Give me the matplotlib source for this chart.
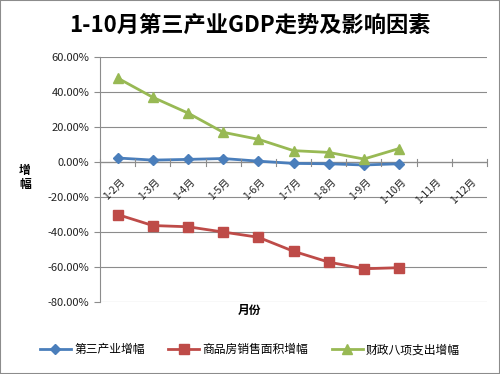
import numpy as np
import matplotlib.pyplot as plt
from matplotlib.ticker import FuncFormatter

plt.rcParams['font.family'] = ['Noto Sans CJK SC', 'DejaVu Sans']

months = ['1-2月', '1-3月', '1-4月', '1-5月', '1-6月', '1-7月', '1-8月', '1-9月',
          '1-10月', '1-11月', '1-12月']
tertiary = [2.3, 1.1, 1.5, 2.0, 0.5, -0.8, -1.0, -1.7, -1.0]
housing = [-30.0, -36.3, -37.0, -40.0, -43.0, -51.0, -57.2, -61.0, -60.4]
fiscal = [48.0, 37.0, 28.0, 17.0, 13.0, 6.5, 5.5, 1.7, 7.7]

fig = plt.figure(figsize=(5, 3.74), dpi=100)
ax = fig.add_axes([0.2, 0.1925, 0.774, 0.655])

x = np.arange(len(tertiary))
ax.plot(x, tertiary, color='#4A7EBB', lw=2, marker='D', ms=5, label='第三产业增幅')
ax.plot(x, housing, color='#BE4B48', lw=2, marker='s', ms=6.5, label='商品房销售面积增幅')
ax.plot(x, fiscal, color='#98B954', lw=2, marker='^', ms=7.5, label='财政八项支出增幅')

ax.set_xlim(-0.5, len(months) - 0.5)
ax.set_ylim(-80, 60)
ax.set_yticks(np.arange(-80, 61, 20))
ax.yaxis.set_major_formatter(FuncFormatter(lambda v, p: f'{v:.2f}%'))
ax.grid(axis='y', color='#8c8c8c', lw=0.8)
ax.set_axisbelow(True)

for s in ['top', 'right', 'bottom']:
    ax.spines[s].set_visible(False)
ax.spines['left'].set_color('#8c8c8c')
ax.axhline(0, color='#8c8c8c', lw=0.9, zorder=1)

ax.set_xticks(np.arange(-0.5, len(months), 1), minor=False)
ax.set_xticklabels([])
ax.tick_params(axis='x', length=0)
for i, m in enumerate(months):
    ax.text(i + 0.05, -8.5, m, rotation=45, ha='right', va='top', fontsize=7.5,
            rotation_mode='anchor', color='#222222')
for b in np.arange(-0.5, len(months), 1):
    ax.plot([b, b], [-2, 2], color='#8c8c8c', lw=0.8, clip_on=False)

ax.tick_params(axis='y', length=4, color='#8c8c8c', labelsize=8, labelcolor='#222222')

fig.text(0.5, 0.93, '1-10月第三产业GDP走势及影响因素', ha='center', va='center',
         fontsize=16, fontweight='bold')
fig.text(0.05, 0.525, '增\n幅', ha='center', va='center', fontsize=8.5,
         fontweight='bold', linespacing=1.1)
fig.text(0.5, 0.17, '月份', ha='center', va='center', fontsize=8.5, fontweight='bold')

fig.legend(loc='center', bbox_to_anchor=(0.5, 0.065), ncol=3, frameon=False,
           fontsize=8.5, handlelength=2.6, columnspacing=2.0, handletextpad=0.3)

fig.patches.append(plt.Rectangle((0, 0), 1, 1, transform=fig.transFigure,
                                 fill=False, edgecolor='#8c8c8c', lw=1.5))

plt.savefig('out.png', dpi=100)
